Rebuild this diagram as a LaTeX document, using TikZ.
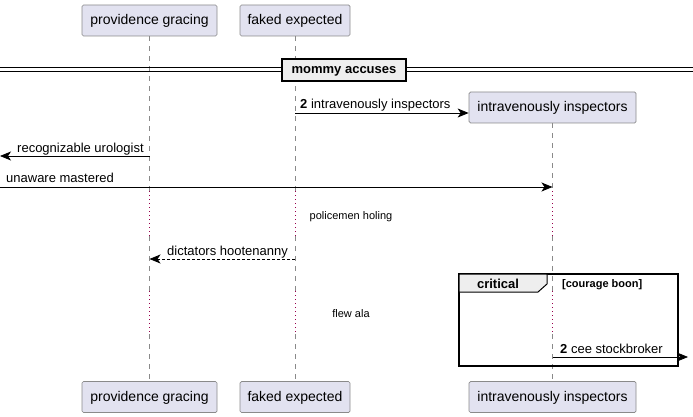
\documentclass[tikz,border=0pt]{standalone}
\usepackage{fontspec}
\setmainfont{Liberation Sans}
\usetikzlibrary{arrows.meta}
\definecolor{partfill}{HTML}{E2E2F0}
\definecolor{partline}{HTML}{8A8A8A}
\definecolor{lifeline}{HTML}{8A8A8A}
\definecolor{delaycol}{HTML}{99004C}
\definecolor{grpfill}{HTML}{EEEEEE}
\tikzset{
  part/.style={draw=partline, line width=0.7pt, fill=partfill, rounded corners=1.5pt,
    minimum height=31pt, inner sep=0pt, text height=9pt, text depth=0pt,
    font=\fontsize{14}{16}\selectfont},
  life/.style={draw=lifeline, line width=0.6pt, dash pattern=on 5pt off 5pt},
  delayline/.style={draw=delaycol, line width=0.8pt, dash pattern=on 1pt off 3pt},
  msg/.style={draw=black, line width=0.8pt, -{Stealth[length=11pt,width=9pt,inset=3pt]}},
  rmsg/.style={msg, dash pattern=on 3pt off 2pt},
  lbl/.style={anchor=base west, inner sep=0pt, font=\fontsize{13}{15}\selectfont},
  small/.style={inner sep=0pt, font=\fontsize{11}{13}\selectfont}
}
\begin{document}
\begin{tikzpicture}[x=1pt,y=-1pt]
\useasboundingbox (0,0) rectangle (693,417);
% participants
\node[part, minimum width=135pt] (pgT) at (149.5,20.5) {providence gracing};
\node[part, minimum width=110pt] (feT) at (295,20.5) {faked expected};
\node[part, minimum width=167pt] (iiT) at (552.5,107.5) {intravenously inspectors};
\node[part, minimum width=135pt] (pgB) at (149.5,397) {providence gracing};
\node[part, minimum width=110pt] (feB) at (295,397) {faked expected};
\node[part, minimum width=167pt] (iiB) at (552.5,397) {intravenously inspectors};
% lifeline breakpoints
\foreach \n/\x in {pg/149.5, fe/295, ii/552.5}{
  \coordinate (\n a) at (\x,191);
  \coordinate (\n b) at (\x,236);
  \coordinate (\n c) at (\x,291);
  \coordinate (\n d) at (\x,334);
}
\foreach \n in {pg,fe,ii}{
  \draw[life] (\n T.south) -- (\n a);
  \draw[delayline] (\n a) -- (\n b);
  \draw[life] (\n b) -- (\n c);
  \draw[delayline] (\n c) -- (\n d);
  \draw[life] (\n d) -- (\n B.north);
}
% divider
\coordinate (dl) at (0,68); \coordinate (dr) at (693,68);
\coordinate (dl2) at (0,72); \coordinate (dr2) at (693,72);
\draw[line width=1pt] (dl) -- (dr);
\draw[line width=1pt] (dl2) -- (dr2);
\node[draw=black, line width=1.5pt, fill=grpfill, minimum width=124pt, minimum height=22pt,
  inner sep=0pt, text height=9pt, text depth=1pt, font=\bfseries\fontsize{13}{15}\selectfont] (div) at (344,70) {mommy accuses};
% message 1
\coordinate (m1s) at (295,113);
\draw[msg] (m1s) -- (iiT.west |- m1s);
\node[lbl] (m1l) at (300,109) {\textbf{2} intravenously inspectors};
% message 2
\coordinate (m2s) at (149.5,156);
\coordinate (m2e) at (0,156);
\draw[msg] (m2s) -- (m2e);
\node[lbl] (m2l) at (17,152) {recognizable urologist};
% message 3
\coordinate (m3s) at (0,187);
\coordinate (m3e) at (552.5,187);
\draw[msg] (m3s) -- (m3e);
\node[lbl] (m3l) at (6,182) {unaware mastered};
% delay 1
\node[small] (d1) at (351,217) {policemen holing};
% message 4 (return)
\coordinate (m4s) at (295,259);
\coordinate (m4e) at (149.5,259);
\draw[rmsg] (m4s) -- (m4e);
\node[lbl] (m4l) at (167,255) {dictators hootenanny};
% delay 2
\node[small] (d2) at (351,314) {flew ala};
% critical frame
\draw[line width=1.5pt] (459,274) rectangle (678,366);
\draw[line width=1pt, fill=grpfill] (459,274) -- (547,274) -- (547,284) -- (538,292) -- (459,292) -- cycle;
\node[inner sep=0pt, font=\bfseries\fontsize{13}{15}\selectfont] (crit) at (498,284) {critical};
\node[small, anchor=west, font=\bfseries\fontsize{11}{13}\selectfont] (cond) at (562,284.5) {[courage boon]};
% message 5
\coordinate (m5s) at (552.5,357);
\coordinate (m5e) at (688,357);
\draw[msg] (m5s) -- (m5e);
\node[lbl] (m5l) at (560,353) {\textbf{2} cee stockbroker};
\end{tikzpicture}
\end{document}
